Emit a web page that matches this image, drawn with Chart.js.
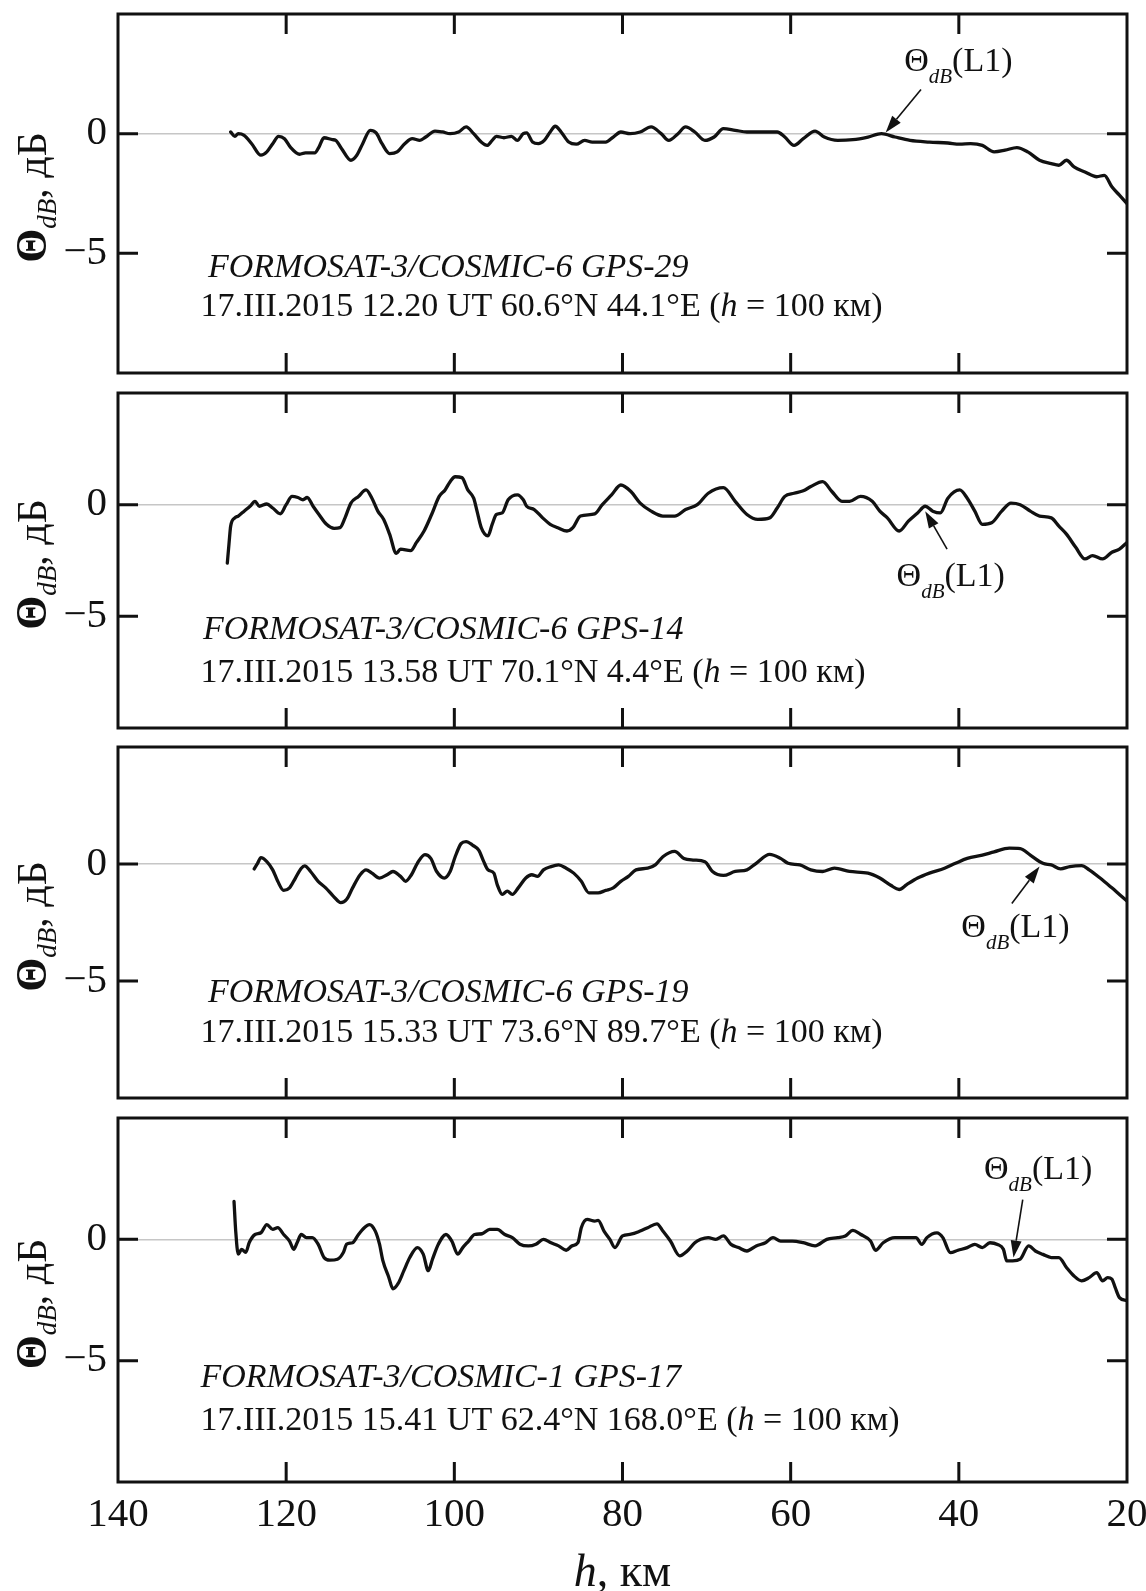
<!DOCTYPE html>
<html><head><meta charset="utf-8">
<script src="https://cdn.jsdelivr.net/npm/chart.js@4.4.1/dist/chart.umd.min.js"></script>
<style>
html,body{margin:0;padding:0;background:#fff;}
body{width:1146px;height:1591px;position:relative;overflow:hidden;}
canvas{position:absolute;left:0;}
</style></head><body>
<canvas id="c0"></canvas><canvas id="c1"></canvas><canvas id="c2"></canvas><canvas id="c3"></canvas>
<script>
// ---------- DATA ----------
// h, km (x) and Theta_dB, dB (y) per panel
const h1 = [126.6,126.1,125.7,125.0,124.1,123.0,122.3,121.6,120.9,120.2,119.5,118.4,117.7,116.6,116.1,115.5,114.5,114.1,113.4,112.3,111.6,110.9,110.0,109.3,108.6,107.7,106.8,105.9,105.0,104.1,103.4,102.3,101.4,100.5,99.5,98.6,97.7,96.8,96.1,95.5,95.0,94.1,93.2,92.5,91.8,91.4,90.7,90.0,89.3,88.6,88.0,87.3,86.4,85.5,84.5,83.6,
  82.0,81.1,80.2,79.1,77.9,76.6,75.4,74.5,73.4,72.5,71.4,70.2,69.1,68.0,66.6,65.2,63.4,61.6,60.7,59.6,58.5,57.1,56.0,54.4,52.6,50.8,49.2,47.6,45.8,43.5,41.3,39.9,38.6,37.2,35.8,34.5,33.1,31.8,30.4,29.0,28.1,27.2,26.3,25.0,23.6,22.7,21.8,20.9,20.0];
const v1 = [0.07,-0.11,0,-0.07,-0.42,-0.9,-0.76,-0.42,-0.11,-0.21,-0.56,-0.86,-0.8,-0.8,-0.56,-0.17,-0.25,-0.28,-0.63,-1.11,-0.9,-0.42,0.14,0.03,-0.42,-0.83,-0.76,-0.42,-0.21,-0.28,-0.14,0.11,0.07,0,0.07,0.28,0,-0.35,-0.49,-0.28,-0.11,-0.17,-0.11,-0.28,0,0.03,-0.35,-0.42,-0.28,0.07,0.31,0.07,-0.35,-0.44,-0.28,-0.35,
  -0.35,-0.14,0.07,0,0.07,0.28,0,-0.28,0,0.28,0.07,-0.28,-0.14,0.21,0.14,0.07,0.07,0.07,-0.14,-0.49,-0.21,0.11,-0.14,-0.28,-0.25,-0.14,0,-0.14,-0.28,-0.35,-0.39,-0.44,-0.42,-0.49,-0.76,-0.69,-0.58,-0.76,-1.11,-1.25,-1.32,-1.11,-1.39,-1.6,-1.8,-1.74,-2.22,-2.57,-2.92];

const h2 = [127.0,126.8,126.6,126.1,125.7,125.0,124.3,123.7,123.2,122.3,121.6,120.7,120.0,119.3,118.6,118.0,117.5,116.8,116.1,115.2,114.3,113.6,113.0,112.3,111.4,110.5,109.8,109.1,108.4,107.7,106.9,106.4,105.2,104.5,103.6,102.7,101.8,101.1,100.5,99.9,99.1,98.4,97.7,97.3,96.8,96.0,95.5,95.0,94.3,93.6,92.5,91.8,91.4,90.5,89.5,88.6,87.7,86.6,85.9,85.0,
  83.3,82.4,81.3,80.2,79.0,77.9,76.6,75.2,73.8,72.5,71.1,69.8,68.0,66.6,65.2,63.9,62.5,61.6,60.7,59.6,58.5,57.6,56.2,55.1,53.9,53.0,51.7,50.3,49.4,48.5,47.1,46.0,44.9,44.0,43.1,42.2,41.3,39.9,39.0,38.1,37.2,36.1,34.9,33.8,32.7,31.5,30.4,29.0,28.1,27.2,26.1,25.0,24.1,22.9,21.8,20.9,20.0];
const v2 = [-2.62,-1.76,-0.96,-0.59,-0.51,-0.29,-0.07,0.15,-0.07,0.03,-0.15,-0.41,0,0.37,0.32,0.22,0.32,-0.07,-0.44,-0.88,-1.06,-1.03,-0.59,0.07,0.37,0.66,0.29,-0.29,-0.66,-1.32,-2.18,-1.99,-2.06,-1.69,-1.18,-0.44,0.37,0.66,1.03,1.25,1.21,0.66,0.29,-0.29,-1.03,-1.4,-0.88,-0.44,-0.37,0.22,0.44,0.22,-0.07,-0.22,-0.59,-0.88,-1.03,-1.18,-1.03,-0.51,
  -0.41,0,0.44,0.88,0.59,0.07,-0.29,-0.51,-0.51,-0.22,0,0.51,0.76,0.15,-0.44,-0.66,-0.59,-0.15,0.37,0.51,0.62,0.81,1.03,0.59,0.15,0.15,0.37,0.15,-0.29,-0.59,-1.18,-0.74,-0.37,-0.07,-0.29,-0.37,0.29,0.66,0.29,-0.29,-0.88,-0.81,-0.29,0.07,0,-0.29,-0.51,-0.59,-0.96,-1.32,-1.91,-2.43,-2.28,-2.43,-2.13,-1.99,-1.69];

const h3 = [123.8,123.4,123.0,122.3,121.6,121.0,120.3,119.6,118.9,118.2,117.8,117.1,116.2,115.3,114.4,113.5,112.8,112.1,111.2,110.5,109.8,108.9,108.0,107.3,106.4,105.8,105.1,104.4,103.5,102.8,102.1,101.2,100.5,99.9,99.2,98.6,97.8,97.1,96.5,96.0,95.3,94.9,94.3,93.7,93.1,92.4,91.5,90.8,90.1,89.4,88.5,87.6,86.7,85.8,84.9,84.0,
  82.9,82.0,81.1,80.2,79.3,78.4,77.0,76.1,75.2,73.8,72.7,71.6,70.2,69.3,68.0,66.6,65.2,64.1,62.5,61.2,60.3,58.9,57.6,56.2,54.8,53.0,50.8,49.4,48.1,47.1,46.2,44.9,43.5,41.7,40.4,39.0,37.2,35.8,34.0,32.7,31.5,30.0,29.0,27.9,26.8,25.4,24.5,23.2,21.8,20.9,20.0];
const v3 = [-0.21,0.03,0.27,0.1,-0.25,-0.74,-1.13,-1.02,-0.6,-0.18,-0.08,-0.32,-0.74,-1.02,-1.37,-1.65,-1.51,-1.02,-0.46,-0.25,-0.39,-0.6,-0.46,-0.32,-0.53,-0.74,-0.46,0.03,0.4,0.24,-0.32,-0.6,-0.32,0.31,0.87,0.96,0.8,0.59,0.1,-0.25,-0.39,-0.88,-1.3,-1.16,-1.3,-1.02,-0.6,-0.46,-0.53,-0.25,-0.11,-0.04,-0.18,-0.39,-0.74,-1.23,
  -1.23,-1.13,-1.02,-0.74,-0.53,-0.25,-0.18,-0.04,0.31,0.54,0.24,0.17,0.1,-0.32,-0.49,-0.32,-0.25,0.03,0.41,0.24,0.03,-0.04,-0.25,-0.32,-0.18,-0.32,-0.39,-0.6,-0.91,-1.09,-0.88,-0.6,-0.39,-0.18,0.03,0.24,0.38,0.52,0.68,0.66,0.38,0.03,-0.04,-0.21,-0.11,-0.07,-0.25,-0.6,-1.02,-1.3,-1.58];

const h4 = [126.2,126.0,125.7,125.3,124.8,124.4,123.7,123.0,122.3,121.6,121.0,120.3,119.6,119.1,118.7,118.2,117.6,116.9,116.2,115.5,114.8,113.9,113.2,112.8,112.1,111.4,110.7,110.1,109.4,108.9,108.5,107.8,107.3,106.7,106.0,105.3,104.4,103.7,103.1,102.6,101.9,101.0,100.3,99.6,99.0,98.3,97.6,96.7,95.8,94.9,94.0,93.1,92.2,91.2,90.3,89.4,88.5,87.6,86.7,86.0,85.3,84.9,84.2,
  83.3,82.9,82.2,81.5,80.9,80.0,79.0,77.9,77.0,75.9,75.2,74.3,73.2,72.3,71.4,70.7,69.8,68.9,68.0,67.1,66.2,65.2,64.1,63.0,62.1,61.2,59.8,58.5,57.1,55.7,54.4,53.5,52.6,51.7,50.5,49.9,49.0,47.6,46.2,45.1,44.4,43.8,42.6,41.9,41.0,40.1,39.0,38.1,37.2,36.3,35.4,34.7,34.3,33.6,32.7,31.7,30.9,30.0,29.0,28.1,27.2,26.3,25.4,24.5,23.6,22.9,22.3,21.8,21.4,20.9,20.0];
const v4 = [1.56,0.34,-0.61,-0.41,-0.54,-0.14,0.2,0.27,0.61,0.41,0.48,0.2,-0.07,-0.41,-0.14,0.2,0.07,0.07,-0.2,-0.75,-0.86,-0.82,-0.54,-0.2,-0.14,0.2,0.48,0.61,0.34,-0.2,-0.88,-1.56,-2.04,-1.83,-1.29,-0.75,-0.34,-0.61,-1.29,-0.82,-0.2,0.2,-0.07,-0.61,-0.34,-0.07,0.2,0.23,0.41,0.41,0.2,0.07,-0.2,-0.27,-0.2,0,-0.14,-0.27,-0.45,-0.27,-0.14,0.48,0.82,
  0.75,0.78,0.34,0,-0.34,0.14,0.21,0.34,0.48,0.64,0.34,-0.07,-0.68,-0.48,-0.14,0,0.07,0,0.14,-0.21,-0.34,-0.48,-0.27,-0.14,0.07,-0.07,-0.07,-0.14,-0.27,0,0.07,0.14,0.37,0.21,-0.07,-0.45,-0.14,0.07,0.07,0.07,-0.21,0.07,0.27,0.07,-0.55,-0.45,-0.34,-0.21,-0.34,-0.14,-0.21,-0.41,-0.89,-0.89,-0.82,-0.27,-0.48,-0.62,-0.75,-0.75,-1.16,-1.51,-1.71,-1.58,-1.37,-1.71,-1.58,-1.64,-1.99,-2.4,-2.53];

const xTickLabels = [140, 120, 100, 80, 60, 40, 20];
const yTickLabels = [0, -5];
const satellites = ['FORMOSAT-3/COSMIC-6 GPS-29', 'FORMOSAT-3/COSMIC-6 GPS-14', 'FORMOSAT-3/COSMIC-6 GPS-19', 'FORMOSAT-3/COSMIC-1 GPS-17'];
const sessions = [
  '17.III.2015 12.20 UT 60.6°N 44.1°E',
  '17.III.2015 13.58 UT 70.1°N 4.4°E',
  '17.III.2015 15.33 UT 73.6°N 89.7°E',
  '17.III.2015 15.41 UT 62.4°N 168.0°E'
];
const sessionHeight = '100 км';
const markName = 'L1';
// L1 marker: label anchor, arrow tail, arrow head (h, Θ)
const markText = [[46.5, 2.6], [47.4, -3.65], [39.7, -3.11], [37.0, 2.5]];
const markTail = [[44.5, 1.85], [41.4, -1.99], [33.7, -1.69], [32.4, 1.64]];
const markHead = [[48.7, 0.05], [44.0, -0.29], [30.4, -0.11], [33.5, -0.75]];

const seriesH = [h1, h2, h3, h4];
const seriesV = [v1, v2, v3, v4];

// ---------- LAYOUT ----------
const SERIF = '"Liberation Serif","Times New Roman",serif';
const INK = '#111';
const W = 1146, LEFT = 118, RIGHT = 1127, PAD = 30;
const frames = [{top:14,bottom:373},{top:393,bottom:728},{top:747,bottom:1098},{top:1118,bottom:1482}];
const capPos = [[129.3,-5.98,130.2,-7.62],[129.9,-6.0,130.2,-7.95],[129.3,-5.9,130.2,-7.6],[130.2,-6.1,130.2,-7.85]];
const X_AXIS_H = 60, XTITLE_BASE = 1586;

function drawRich(ctx, segs, x, y, align){
  let w = 0;
  for (const s of segs){ ctx.font = s.f; w += ctx.measureText(s.t).width; }
  if (align === 'center') x -= w/2;
  for (const s of segs){ ctx.font = s.f; ctx.fillText(s.t, x, y + (s.dy||0)); x += ctx.measureText(s.t).width; }
}

function makeDeco(i, isBottom, canvasTop){
  return {
    id: 'deco'+i,
    afterDraw(chart){
      const {ctx, chartArea:a, scales:{x, y}} = chart;
      ctx.save();
      // frame + inward ticks
      ctx.strokeStyle = INK; ctx.lineWidth = 3; ctx.lineCap = 'butt';
      ctx.beginPath();
      x.ticks.forEach(t => {
        if (t.value <= x.min || t.value >= x.max) return;
        const px = x.getPixelForValue(t.value), L = (t.value % 20 === 0) ? 20 : 11;
        ctx.moveTo(px, a.top); ctx.lineTo(px, a.top + L);
        ctx.moveTo(px, a.bottom); ctx.lineTo(px, a.bottom - L);
      });
      y.ticks.forEach(t => {
        if (t.value <= y.min || t.value >= y.max) return;
        const py = y.getPixelForValue(t.value), L = (Math.abs(t.value % 5) < 1e-6) ? 20 : 11;
        ctx.moveTo(a.left, py); ctx.lineTo(a.left + L, py);
        ctx.moveTo(a.right, py); ctx.lineTo(a.right - L, py);
      });
      ctx.stroke();
      ctx.strokeRect(a.left, a.top, a.right - a.left, a.bottom - a.top);

      ctx.fillStyle = INK; ctx.textBaseline = 'alphabetic'; ctx.textAlign = 'left';
      // captions
      const cp = capPos[i];
      drawRich(ctx, [{t: satellites[i], f: 'italic 34px ' + SERIF}], x.getPixelForValue(cp[0]), y.getPixelForValue(cp[1]));
      drawRich(ctx, [
        {t: sessions[i] + ' (', f: '34px ' + SERIF},
        {t: 'h', f: 'italic 34px ' + SERIF},
        {t: ' = ' + sessionHeight + ')', f: '34px ' + SERIF}
      ], x.getPixelForValue(cp[2]), y.getPixelForValue(cp[3]));

      // L1 marker label
      drawRich(ctx, [
        {t: 'Θ', f: '34px ' + SERIF},
        {t: 'dB', f: 'italic 21px ' + SERIF, dy: 12},
        {t: '(' + markName + ')', f: '34px ' + SERIF}
      ], x.getPixelForValue(markText[i][0]), y.getPixelForValue(markText[i][1]));
      // arrow
      const tx = x.getPixelForValue(markTail[i][0]), ty = y.getPixelForValue(markTail[i][1]);
      const hx = x.getPixelForValue(markHead[i][0]), hy = y.getPixelForValue(markHead[i][1]);
      const ang = Math.atan2(hy - ty, hx - tx), HL = 17, HW = 5.5;
      const bx = hx - HL*Math.cos(ang), by = hy - HL*Math.sin(ang);
      ctx.lineWidth = 1.6;
      ctx.beginPath(); ctx.moveTo(tx, ty); ctx.lineTo(bx, by); ctx.stroke();
      ctx.beginPath();
      ctx.moveTo(hx, hy);
      ctx.lineTo(bx + HW*Math.sin(ang), by - HW*Math.cos(ang));
      ctx.lineTo(bx - HW*Math.sin(ang), by + HW*Math.cos(ang));
      ctx.closePath(); ctx.fill();

      // y title (rotated)
      ctx.save();
      ctx.translate(46, (a.top + a.bottom)/2 + 4);
      ctx.rotate(-Math.PI/2);
      drawRich(ctx, [
        {t: 'Θ', f: 'bold 44px ' + SERIF},
        {t: 'dB', f: 'italic 27px ' + SERIF, dy: 10},
        {t: ', дБ', f: '42px ' + SERIF}
      ], 0, 0, 'center');
      ctx.restore();

      if (isBottom){
        drawRich(ctx, [
          {t: 'h', f: 'italic 46px ' + SERIF},
          {t: ', км', f: '46px ' + SERIF}
        ], (a.left + a.right)/2, XTITLE_BASE - canvasTop, 'center');
      }
      ctx.restore();
    }
  };
}

frames.forEach((fr, i) => {
  const isBottom = i === frames.length - 1;
  const padTop = Math.min(PAD, fr.top);
  const canvasTop = fr.top - padTop;
  const canvasH = isBottom ? (1591 - canvasTop) : (fr.bottom - canvasTop + PAD);
  const padBottom = isBottom ? (canvasH - (fr.bottom - canvasTop) - X_AXIS_H) : PAD;
  const cv = document.getElementById('c' + i);
  cv.width = W; cv.height = canvasH;
  cv.style.top = canvasTop + 'px'; cv.style.width = W + 'px'; cv.style.height = canvasH + 'px';

  const pts = seriesH[i].map((h, k) => ({x: h, y: seriesV[i][k]})).filter(p => p.y !== undefined);

  new Chart(cv, {
    type: 'line',
    data: { datasets: [{ data: pts, borderColor: INK, borderWidth: 3.3, pointRadius: 0, fill: false,
      cubicInterpolationMode: 'monotone', borderJoinStyle: 'round', borderCapStyle: 'round' }] },
    options: {
      responsive: false, animation: false, devicePixelRatio: 1,
      layout: { autoPadding: false, padding: { left: 0, right: W - RIGHT, top: padTop, bottom: padBottom } },
      plugins: { legend: { display: false }, tooltip: { enabled: false } },
      scales: {
        x: {
          type: 'linear', reverse: true, min: 20, max: 140,
          ticks: { stepSize: 10, display: isBottom, autoSkip: false, maxRotation: 0, padding: 9,
            color: INK, font: { family: SERIF, size: 41, lineHeight: 1.2 },
            callback: v => xTickLabels.includes(v) ? String(v) : null },
          grid: { display: false, drawTicks: false }, border: { display: false },
          afterFit: s => { s.height = isBottom ? X_AXIS_H : 0; s.paddingLeft = 0; s.paddingRight = 0; }
        },
        y: {
          min: -10, max: 5,
          ticks: { stepSize: 2.5, autoSkip: false, padding: 11, color: INK,
            font: { family: SERIF, size: 41, lineHeight: 1.2 },
            callback: v => yTickLabels.includes(v) ? (v < 0 ? '\u2212' + Math.abs(v) : String(v)) : null },
          grid: { drawTicks: false, lineWidth: 1.5,
            color: c => (c.tick && c.tick.value === 0) ? '#c6c6c6' : 'rgba(0,0,0,0)' },
          border: { display: false },
          afterFit: s => { s.width = LEFT; s.paddingTop = 0; s.paddingBottom = 0; }
        }
      }
    },
    plugins: [makeDeco(i, isBottom, canvasTop)]
  });
});
</script>
</body></html>
